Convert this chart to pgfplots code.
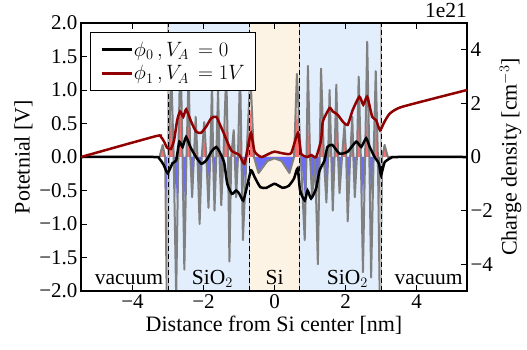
\documentclass[border=0pt]{standalone}
\usepackage{pgfplots}
\pgfplotsset{compat=1.18}
\usepackage{pgfplotstable}
\usepackage{fontspec}
\setmainfont{Liberation Serif}
\definecolor{sio2}{RGB}{226,238,252}
\definecolor{sicol}{RGB}{253,243,228}
\definecolor{posfill}{RGB}{250,112,112}
\definecolor{negfill}{RGB}{108,108,250}
\definecolor{rhogray}{RGB}{128,128,128}
\definecolor{phired}{RGB}{145,0,0}

% charge density (units of 1e21 cm^-3): g = line, fp/fn = positive/negative fill
\pgfplotstableread{
x g fp fn
-5.45 0 0 0
-3.24 0 0 0
-3.15 0.45 0.45 0
-3.08 0 0 0
-3.03 -6.0 0 -2.0
-2.98 0 0 0
-2.91 3.3 1.6 0
-2.84 0 0 0
-2.77 -5.2 0 -1.6
-2.71 0 0 0
-2.65 4.2 1.8 0
-2.59 0 0 0
-2.54 -4.2 0 -1.6
-2.48 0 0 0
-2.42 3.1 1.9 0
-2.37 0 0 0
-2.32 -1.5 0 -0.9
-2.27 0 0 0
-2.22 1.5 0.8 0
-2.17 0 0 0
-2.11 -2.5 0 -1.2
-2.05 0 0 0
-1.98 1.3 0.7 0
-1.92 0 0 0
-1.86 -1.9 0 -0.8
-1.81 0 0 0
-1.76 2.8 1.3 0
-1.73 0 0 0
-1.69 -2.0 0 -1.1
-1.64 0 0 0
-1.59 2.5 1.2 0
-1.55 0 0 0
-1.50 -1.8 0 -1.0
-1.44 0 0 0
-1.36 3.2 1.4 0
-1.31 0 0 0
-1.27 -3.9 0 -1.5
-1.22 0 0 0
-1.15 1.0 0.5 0
-1.12 0 0 0
-1.08 -1.5 0 -0.9
-1.03 0 0 0
-0.97 3.3 1.3 0
-0.93 0 0 0
-0.89 -3.1 0 -1.4
-0.79 0 0 0
-0.68 3.1 1.8 0
-0.58 0 0 0
-0.45 -0.6 0 -0.6
-0.20 -0.15 0 -0.15
0.00 -0.05 0 -0.05
0.20 -0.15 0 -0.15
0.42 -0.6 0 -0.6
0.55 0 0 0
0.63 3.1 1.8 0
0.74 0 0 0
0.85 -3.1 0 -1.4
0.90 0 0 0
0.94 3.4 1.3 0
1.00 0 0 0
1.06 -1.5 0 -0.9
1.14 0 0 0
1.22 -4.0 0 -1.5
1.27 0 0 0
1.31 3.3 1.4 0
1.39 0 0 0
1.46 -1.7 0 -1.0
1.51 0 0 0
1.55 2.5 1.2 0
1.60 0 0 0
1.64 -2.0 0 -1.1
1.69 0 0 0
1.74 2.7 1.3 0
1.79 0 0 0
1.83 -1.35 0 -0.8
1.90 0 0 0
1.97 1.2 0.7 0
2.02 0 0 0
2.06 -2.4 0 -1.2
2.13 0 0 0
2.19 1.5 0.8 0
2.22 0 0 0
2.26 -1.5 0 -0.9
2.32 0 0 0
2.37 3.0 1.9 0
2.43 0 0 0
2.49 -4.3 0 -1.6
2.55 0 0 0
2.61 4.3 1.8 0
2.67 0 0 0
2.72 -4.5 0 -1.6
2.79 0 0 0
2.85 3.2 1.6 0
2.91 0 0 0
2.97 -6.0 0 -2.0
3.03 0 0 0
3.10 0.45 0.45 0
3.19 0 0 0
5.42 0 0 0
}\rhotab

\pgfplotstableread{
x V
-5.45 0
-3.40 0
-3.25 -0.02
-3.12 -0.12
-3.01 -0.24
-2.87 -0.09
-2.77 -0.05
-2.68 0.23
-2.59 0.15
-2.49 0.30
-2.37 0.15
-2.21 0.0
-2.06 -0.10
-1.92 -0.05
-1.78 0.08
-1.64 0.15
-1.55 0.08
-1.42 -0.08
-1.33 -0.40
-1.20 -0.55
-1.08 -0.50
-0.99 -0.55
-0.88 -0.65
-0.78 -0.45
-0.66 -0.20
-0.56 -0.30
-0.40 -0.45
-0.23 -0.46
0.00 -0.40
0.23 -0.46
0.40 -0.43
0.55 -0.32
0.65 -0.17
0.72 -0.50
0.85 -0.65
0.93 -0.50
1.03 -0.62
1.17 -0.47
1.27 -0.20
1.41 -0.05
1.49 0.15
1.63 0.18
1.83 0.05
2.06 0.08
2.30 0.23
2.44 0.15
2.58 0.28
2.68 0.15
2.82 0.0
2.94 -0.10
3.00 -0.27
3.10 -0.08
3.29 -0.01
3.45 0
5.42 0
}\phizero

\pgfplotstableread{
x V
-5.45 0.0
-3.35 0.31
-3.20 0.30
-3.10 0.22
-3.03 0.14
-2.92 0.12
-2.83 0.25
-2.74 0.55
-2.66 0.68
-2.57 0.60
-2.49 0.71
-2.35 0.53
-2.21 0.38
-2.07 0.36
-1.93 0.45
-1.78 0.58
-1.64 0.60
-1.55 0.50
-1.45 0.38
-1.22 0.10
-0.99 0.03
-0.85 -0.10
-0.72 0.23
-0.66 0.36
-0.56 0.08
-0.37 0.0
-0.15 0.05
0.00 0.08
0.28 0.05
0.47 0.06
0.66 0.36
0.75 0.05
0.93 0.0
1.03 0.03
1.17 0.0
1.31 0.25
1.36 0.53
1.55 0.73
1.64 0.68
1.78 0.63
1.92 0.53
2.06 0.48
2.20 0.70
2.39 0.90
2.50 0.78
2.61 0.90
2.75 0.60
2.86 0.55
2.97 0.40
3.10 0.53
3.25 0.65
3.60 0.75
5.42 1.0
}\phione

\begin{document}
\begin{tikzpicture}[font=\fontsize{21.5}{25}\selectfont]
\path[use as bounding box] (-81pt,-58pt) rectangle (446pt,291pt);
% ---------- right axis: charge density ----------
\begin{axis}[
  at={(0pt,0pt)}, anchor=south west,
  scale only axis, width=386pt, height=268pt,
  xmin=-5.45, xmax=5.42, ymin=-5, ymax=5,
  axis x line=none,
  axis y line*=right,
  axis line style={line width=1.2pt},
  tick align=inside, major tick length=6pt,
  every tick/.style={black, line width=1pt},
  ytick={-4,-2,0,2,4},
  yticklabels={−4,−2,0,2,4},
  /pgf/number format/assume math mode=true,
  ylabel={Charge density [cm$^{-3}$]},
  ylabel style={font=\fontsize{22}{26}\selectfont},
  yticklabel style={font=\fontsize{21}{25}\selectfont},
  clip=true,
]
\addplot[fill=sio2, draw=none] coordinates {(-3.0,-5) (-0.7,-5) (-0.7,5) (-3.0,5)} -- cycle;
\addplot[fill=sio2, draw=none] coordinates {(0.7,-5) (3.0,-5) (3.0,5) (0.7,5)} -- cycle;
\addplot[fill=sicol, draw=none] coordinates {(-0.7,-5) (0.7,-5) (0.7,5) (-0.7,5)} -- cycle;
\addplot[fill=posfill, draw=none] table[x=x, y=fp] {\rhotab} \closedcycle;
\addplot[fill=negfill, draw=none] table[x=x, y=fn] {\rhotab} \closedcycle;
\addplot[rhogray, line width=2pt, line join=round] table[x=x, y=g] {\rhotab};
\addplot[gray!50, line width=1.5pt] coordinates {(-3.0,-5) (-3.0,5)};
\addplot[gray!50, line width=1.5pt] coordinates {(-0.7,-5) (-0.7,5)};
\addplot[gray!50, line width=1.5pt] coordinates {(0.7,-5) (0.7,5)};
\addplot[gray!50, line width=1.5pt] coordinates {(3.0,-5) (3.0,5)};
\addplot[black, line width=1pt, dash pattern=on 5pt off 3pt] coordinates {(-3.0,-5) (-3.0,5)};
\addplot[black, line width=1pt, dash pattern=on 5pt off 3pt] coordinates {(-0.7,-5) (-0.7,5)};
\addplot[black, line width=1pt, dash pattern=on 5pt off 3pt] coordinates {(0.7,-5) (0.7,5)};
\addplot[black, line width=1pt, dash pattern=on 5pt off 3pt] coordinates {(3.0,-5) (3.0,5)};
\end{axis}
% ---------- left axis: potential ----------
\begin{axis}[
  name=pot,
  at={(0pt,0pt)}, anchor=south west,
  scale only axis, width=386pt, height=268pt,
  xmin=-5.45, xmax=5.42, ymin=-2, ymax=2,
  axis line style={line width=1.2pt},
  tick align=inside, major tick length=6pt,
  every tick/.style={black, line width=1pt},
  xtick pos=both, ytick pos=left,
  xtick={-4,-2,0,2,4},
  xticklabels={−4,−2,0,2,4},
  ytick={-2,-1.5,-1,-0.5,0,0.5,1,1.5,2},
  yticklabels={−2.0,−1.5,−1.0,−0.5,0.0,0.5,1.0,1.5,2.0},
  /pgf/number format/assume math mode=true,
  ticklabel style={font=\fontsize{21}{25}\selectfont},
  xlabel={Distance from Si center [nm]},
  ylabel={Potetnial [V]},
  label style={font=\fontsize{22}{26}\selectfont},
  legend style={at={(axis description cs:0.0233,0.966)}, anchor=north west,
    draw=black, line width=1pt, fill=white, inner xsep=10pt, inner ysep=8pt,
    row sep=6pt, font=\fontsize{21.5}{25}\selectfont,
    nodes={inner sep=1pt}},
  legend cell align=left,
  legend image code/.code={\draw[#1] (0pt,0pt) -- (30pt,0pt);},
  every odd column/.append style={column sep=18pt},
]
\addplot[black, line width=2.5pt, smooth, tension=0.35] table[x=x, y=V] {\phizero};
\addlegendentry{$\phi_0\,,V_A\,=0$}
\addplot[phired, line width=2.5pt, smooth, tension=0.35] table[x=x, y=V] {\phione};
\addlegendentry{$\phi_1\,,V_A\,=1V$}
\node[anchor=base] at (axis cs:-4.1,-1.9) {vacuum};
\node[anchor=base] at (axis cs:-1.75,-1.9) {SiO$_2$};
\node[anchor=base] at (axis cs:0,-1.9) {Si};
\node[anchor=base] at (axis cs:2.05,-1.9) {SiO$_2$};
\node[anchor=base] at (axis cs:4.34,-1.9) {vacuum};
\end{axis}
\node[anchor=south east, inner sep=0pt, yshift=5pt] at (pot.north east) {1e21};
\end{tikzpicture}
\end{document}
